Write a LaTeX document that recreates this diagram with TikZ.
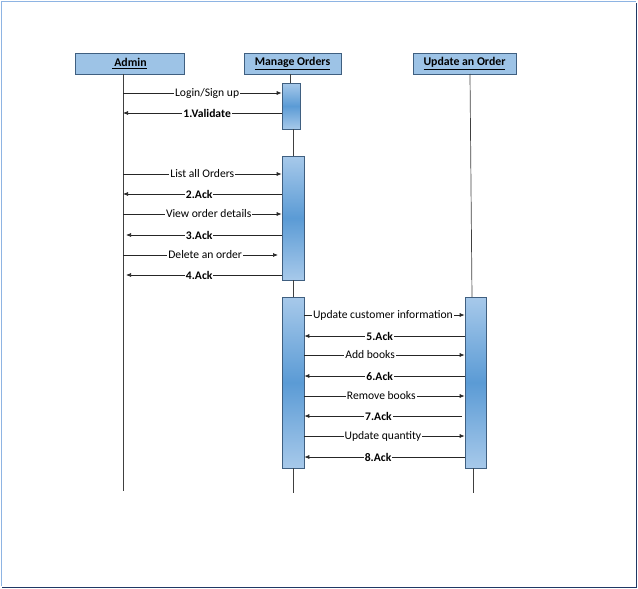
\documentclass[tikz,border=0pt]{standalone}
\usepackage{fontspec}
\setmainfont{Carlito}
\usetikzlibrary{arrows.meta}
\definecolor{hdrfill}{HTML}{9DC3E6}
\definecolor{actlight}{HTML}{A7C9EA}
\definecolor{actdark}{HTML}{5B9BD5}
\definecolor{edge}{HTML}{3F5F80}
\definecolor{frameL}{HTML}{8EB4E3}
\definecolor{frameD}{HTML}{1F3864}
\tikzset{
  header/.style={draw=edge, fill=hdrfill, line width=0.8pt, minimum height=21pt, inner sep=0pt,
                 font=\fontsize{11.8}{13}\selectfont\bfseries},
  act/.style={draw=edge, line width=0.6pt, top color=actlight, bottom color=actlight,
              middle color=actdark, inner sep=0pt},
  life/.style={draw=black!75, line width=0.7pt},
  msg/.style={draw=black!85, line width=0.7pt, -{Latex[length=5pt,width=4pt]}},
  lbl/.style={fill=white, inner sep=1pt, font=\fontsize{11.6}{13}\selectfont},
  blbl/.style={lbl, font=\fontsize{11.6}{13}\selectfont\bfseries},
}
\begin{document}
\begin{tikzpicture}[x=1pt, y=-1pt]
\useasboundingbox (0,0) rectangle (638,589);
% page frame
\draw[frameL, line width=1pt] (1.5,586) -- (1.5,1.5) -- (636,1.5);
\draw[frameD, line width=1.2pt] (2,587.5) -- (636.5,587.5) -- (636.5,3);

% lifeline heads
\node[header, minimum width=109pt] (admin) at (129.5,63.5) {\underline{\,Admin}};
\node[header, minimum width=97pt] (manage) at (292.5,63.5) {\underline{Manage Orders}};
\node[header, minimum width=103pt] (update) at (464.5,63.5) {\underline{Update an Order}};

% lifeline ends
\coordinate (adminEnd) at (123,491);
\coordinate (manageEnd) at (293,493);
\coordinate (updateEnd) at (473,493);

% activation bars
\node[act, minimum width=18pt, minimum height=46pt] (a1) at (291,106) {};
\node[act, minimum width=22pt, minimum height=124pt] (a2) at (293,218) {};
\node[act, minimum width=22pt, minimum height=171pt] (a3) at (293,382.5) {};
\node[act, minimum width=21pt, minimum height=171pt] (u1) at (475.5,382.5) {};

% lifelines
\draw[life] (admin.south -| adminEnd) -- (adminEnd);
\draw[life] (290,74) -- (290,83);
\draw[life] (293,129) -- (293,156);
\draw[life] (293,280) -- (293,297);
\draw[life] (a3.south -| manageEnd) -- (manageEnd);
\draw[life] (470,74) -- (472,297);
\draw[life] (u1.south -| updateEnd) -- (updateEnd);

% Admin <-> Manage Orders
\draw[msg] (adminEnd |- 0,93) -- node[lbl, pos=0.53] {Login/Sign up} (a1.west |- 0,93);
\draw[msg] (a1.west |- 0,113) -- node[blbl, pos=0.47] {1.Validate} (adminEnd |- 0,113);
\draw[msg] (adminEnd |- 0,174) -- node[lbl, pos=0.5] {List all Orders} (a2.west |- 0,174);
\draw[msg] (a2.west |- 0,194) -- node[blbl, pos=0.52] {2.Ack} (adminEnd |- 0,194);
\draw[msg] (adminEnd |- 0,214) -- node[lbl, pos=0.54] {View order details} (a2.west |- 0,214);
\draw[msg] (a2.west |- 0,235) -- node[blbl, pos=0.53] {3.Ack} (126,235);
\draw[msg] (adminEnd |- 0,255) -- node[lbl, pos=0.53] {Delete an order} (278,255);
\draw[msg] (a2.west |- 0,275) -- node[blbl, pos=0.53] {4.Ack} (126,275);

% Manage Orders <-> Update an Order
\draw[msg] (a3.east |- 0,315) -- node[lbl, pos=0.49] {Update customer information} (u1.west |- 0,315);
\draw[msg] (u1.west |- 0,336) -- node[blbl, pos=0.53] {5.Ack} (a3.east |- 0,336);
\draw[msg] (a3.east |- 0,355) -- node[lbl, pos=0.41] {Add books} (u1.west |- 0,355);
\draw[msg] (u1.west |- 0,376) -- node[blbl, pos=0.53] {6.Ack} (a3.east |- 0,376);
\draw[msg] (a3.east |- 0,396) -- node[lbl, pos=0.48] {Remove books} (u1.west |- 0,396);
\draw[msg] (462,416) -- node[blbl, pos=0.53] {7.Ack} (a3.east |- 0,416);
\draw[msg] (a3.east |- 0,436) -- node[lbl, pos=0.49] {Update quantity} (u1.west |- 0,436);
\draw[msg] (u1.west |- 0,457) -- node[blbl, pos=0.54] {8.Ack} (a3.east |- 0,457);
\end{tikzpicture}
\end{document}
